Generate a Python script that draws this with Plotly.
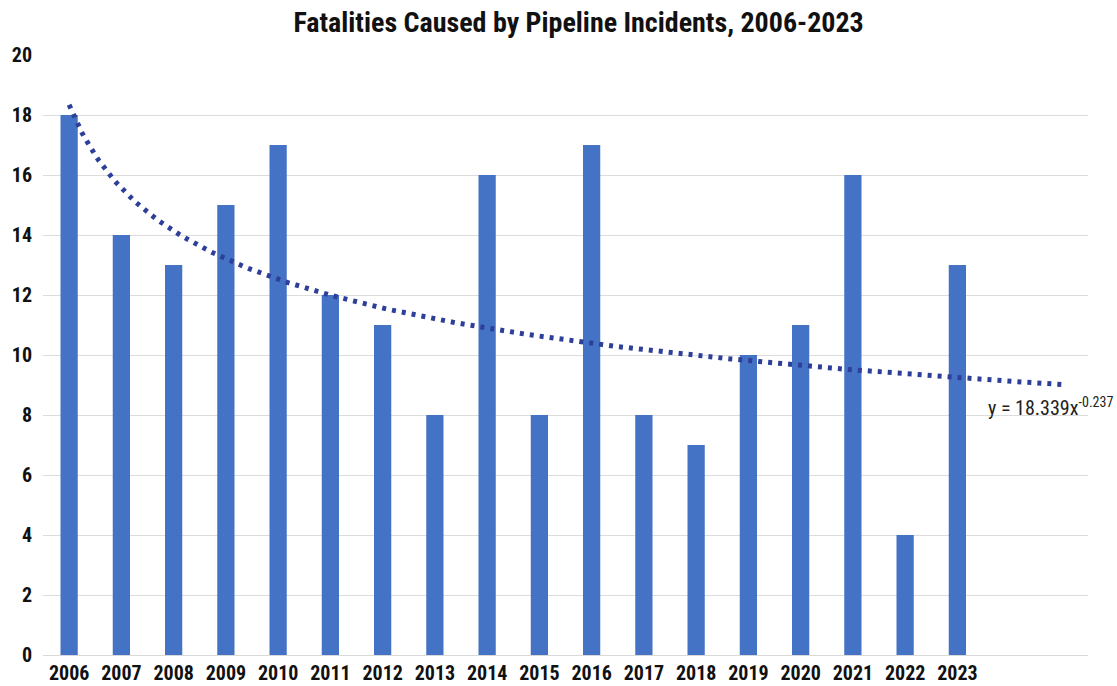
import numpy as np
import plotly.graph_objects as go

years = [2006, 2007, 2008, 2009, 2010, 2011, 2012, 2013, 2014, 2015,
         2016, 2017, 2018, 2019, 2020, 2021, 2022, 2023]
fatalities = [18, 14, 13, 15, 17, 12, 11, 8, 16, 8, 17, 8, 7, 10, 11, 16, 4, 13]
y_ticks = [0, 2, 4, 6, 8, 10, 12, 14, 16, 18, 20]

# Power trendline shown on the chart: y = 18.339 * x^-0.237 (x = 1.. with 2 periods forecast)
trend_a = 18.339
trend_b = -0.237
forecast_periods = 2

n_trend = len(years) + forecast_periods
trend_idx = np.linspace(1, n_trend, 400)
trend_x = years[0] - 1 + trend_idx
trend_y = trend_a * trend_idx ** trend_b

FONT = "Liberation Sans Narrow, Arial Narrow, Roboto Condensed, Liberation Sans, sans-serif"

fig = go.Figure()
fig.add_trace(go.Bar(
    x=years, y=fatalities, width=0.33,
    marker=dict(color="#4472C4", line=dict(width=0)),
    showlegend=False, hoverinfo="x+y",
))
fig.add_trace(go.Scatter(
    x=trend_x, y=trend_y, mode="lines",
    line=dict(color="#2E3F9A", width=5, dash="4px,6px"),
    showlegend=False, hoverinfo="skip",
))

fig.add_annotation(
    x=1, xref="paper", xanchor="right", xshift=27,
    y=trend_a * n_trend ** trend_b, yref="y", yshift=-22,
    text=f"y = {trend_a}x<sup>{trend_b}</sup>",
    showarrow=False,
    font=dict(family=FONT, size=20, color="#222222"),
)

fig.update_layout(
    width=1117, height=686,
    margin=dict(l=43, r=29, t=55, b=31),
    paper_bgcolor="white", plot_bgcolor="white",
    title=dict(
        text="<b>Fatalities Caused by Pipeline Incidents, 2006-2023</b>",
        x=0.518, xanchor="center", y=0.968, yanchor="middle",
        font=dict(family=FONT, size=28, color="#111111"),
        automargin=False,
    ),
    xaxis=dict(
        range=[years[0] - 0.5, years[-1] + forecast_periods + 0.5],
        tickvals=years, ticktext=[f"<b>{y}</b>" for y in years],
        tickfont=dict(family=FONT, size=20, color="#111111"),
        showgrid=False, showline=True, linecolor="#d9d9d9", linewidth=1,
        ticks="", zeroline=False, automargin=False,
    ),
    yaxis=dict(
        range=[0, 20], tickvals=y_ticks,
        ticktext=[f"<b>{v}</b>" for v in y_ticks],
        tickfont=dict(family=FONT, size=20, color="#111111"),
        showgrid=True, gridcolor="#dcdcdc", gridwidth=1,
        zeroline=False, ticks="", ticklabelstandoff=10, automargin=False,
    ),
    bargap=0.67,
)

fig.write_html("out.html")
